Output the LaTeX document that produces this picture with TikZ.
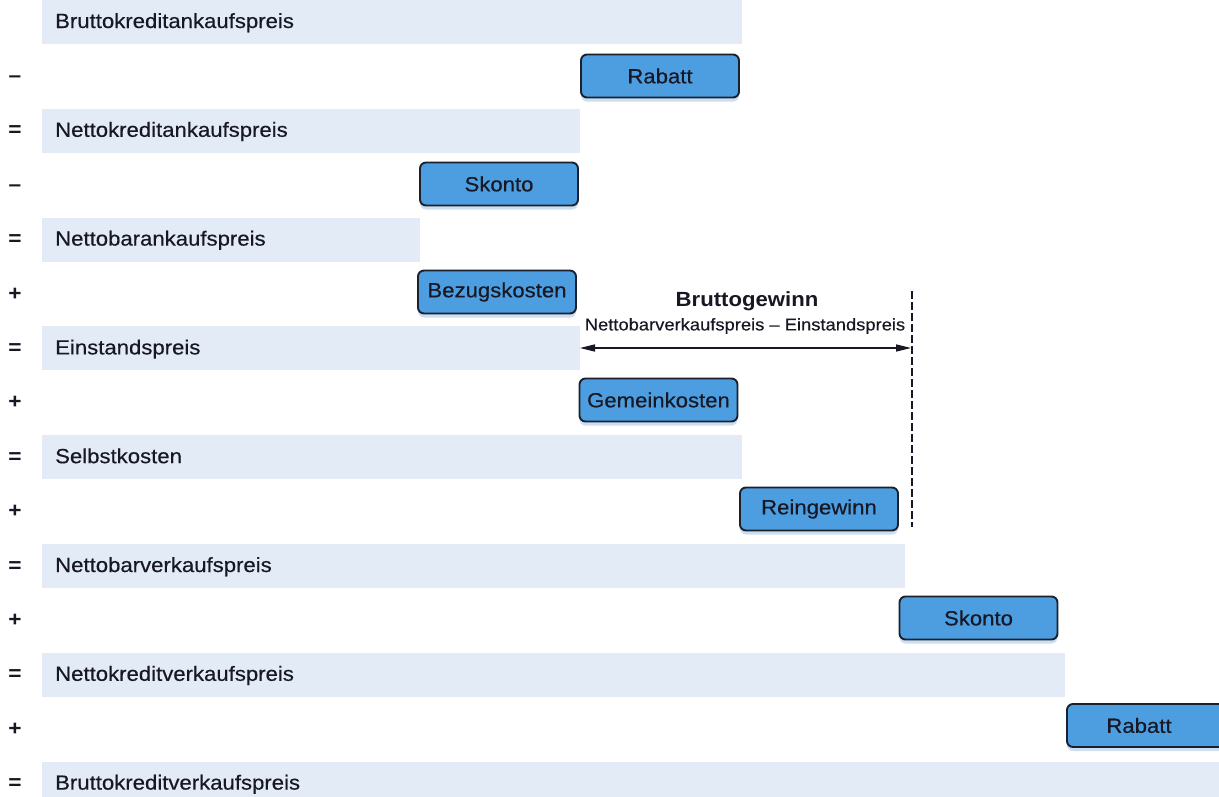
\documentclass[tikz,border=0pt]{standalone}
\usepackage{fontspec}
\setmainfont{Liberation Sans}[FakeStretch=1.08]
\newfontfamily\medfont{Liberation Sans}[FakeStretch=1.08, FakeBold=0.35]
\usetikzlibrary{arrows.meta,shadows}
\definecolor{band}{RGB}{226,235,246}
\definecolor{boxshadow}{RGB}{205,222,240}
\definecolor{boxfill}{RGB}{76,158,224}
\definecolor{boxline}{RGB}{26,32,44}
\definecolor{ink}{RGB}{24,24,36}
\begin{document}
\begin{tikzpicture}[x=1pt,y=-1pt,
  bandbox/.style={fill=band, draw=none},
  rowlabel/.style={anchor=base west, inner sep=0pt, text=ink, font=\medfont\fontsize{20.5}{24}\selectfont},
  sign/.style={anchor=base, inner sep=0pt, text=ink, font=\bfseries\fontsize{21}{24}\selectfont},
  stepbox/.style={draw=boxline, line width=1.9pt, fill=boxfill, rounded corners=6pt,
    minimum width=158pt, minimum height=43pt, inner sep=0pt, text=ink,
    font=\medfont\fontsize{20.5}{24}\selectfont,
    drop shadow={fill=boxshadow, opacity=1, shadow xshift=0pt, shadow yshift=-4pt}},
  title/.style={inner sep=0pt, text=ink, font=\bfseries\fontsize{20.5}{24}\selectfont},
  subtitle/.style={inner sep=0pt, text=ink, font=\medfont\fontsize{17}{20}\selectfont},
  measure/.style={line width=1.4pt, draw=ink, {Triangle[length=15pt,width=7pt]}-{Triangle[length=15pt,width=7pt]}},
  limitline/.style={line width=2.2pt, draw=ink, dash pattern=on 8pt off 3pt}
]
\useasboundingbox (0,0) rectangle (1219,796);
\clip (0,0) rectangle (1219,796);
\fill[white] (0,0) rectangle (1219,796);

% bands (result rows)
\fill[bandbox] (42,0) rectangle (742,44);
\fill[bandbox] (42,108.8) rectangle (580,152.8);
\fill[bandbox] (42,217.6) rectangle (420,261.6);
\fill[bandbox] (42,326.4) rectangle (580,370.4);
\fill[bandbox] (42,435.2) rectangle (742,479.2);
\fill[bandbox] (42,544) rectangle (905,588);
\fill[bandbox] (42,652.8) rectangle (1065,696.8);
\fill[bandbox] (42,761.6) rectangle (1219,805.6);

% row labels
\node[rowlabel] (r0) at (55,28) {Bruttokreditankaufspreis};
\node[rowlabel] (r2) at (55,136.8) {Nettokreditankaufspreis};
\node[rowlabel] (r4) at (55,245.6) {Nettobarankaufspreis};
\node[rowlabel] (r6) at (55,354.4) {Einstandspreis};
\node[rowlabel] (r8) at (55,463.2) {Selbstkosten};
\node[rowlabel] (r10) at (55,572) {Nettobarverkaufspreis};
\node[rowlabel] (r12) at (55,680.8) {Nettokreditverkaufspreis};
\node[rowlabel] (r14) at (55,789.6) {Bruttokreditverkaufspreis};

% signs
\node[sign] (s1) at (15,82.4) {–};
\node[sign] (s2) at (15,136.8) {=};
\node[sign] (s3) at (15,191.2) {–};
\node[sign] (s4) at (15,245.6) {=};
\node[sign] (s5) at (15,300) {+};
\node[sign] (s6) at (15,354.4) {=};
\node[sign] (s7) at (15,408.8) {+};
\node[sign] (s8) at (15,463.2) {=};
\node[sign] (s9) at (15,517.6) {+};
\node[sign] (s10) at (15,572) {=};
\node[sign] (s11) at (15,626.4) {+};
\node[sign] (s12) at (15,680.8) {=};
\node[sign] (s13) at (15,735.2) {+};
\node[sign] (s14) at (15,789.6) {=};

% boxes
\node[stepbox] (b1) at (660,76) {Rabatt};
\node[stepbox] (b3) at (499,184) {Skonto};
\node[stepbox] (b5) at (497,292) {Bezugskosten};
\node[stepbox] (b7) at (658.5,400) {Gemeinkosten};
\node[stepbox] (b9) at (819,509) {Reingewinn};
\node[stepbox] (b11) at (978.5,618) {Skonto};
\node[stepbox, minimum width=162pt, text width=140pt, align=center] (b13) at (1148,725.5) {\hspace*{-18pt}Rabatt};

% Bruttogewinn
\node[title] (bg) at (747,301) {Bruttogewinn};
\node[subtitle] (bgs) at (745,326) {Nettobarverkaufspreis – Einstandspreis};
\coordinate (aL) at (580,348);
\coordinate (aR) at (911,348);
\draw[measure] (aL) -- (aR);
\coordinate (dT) at (912,291);
\coordinate (dB) at (912,527);
\draw[limitline] (dT) -- (dB);
\end{tikzpicture}
\end{document}
